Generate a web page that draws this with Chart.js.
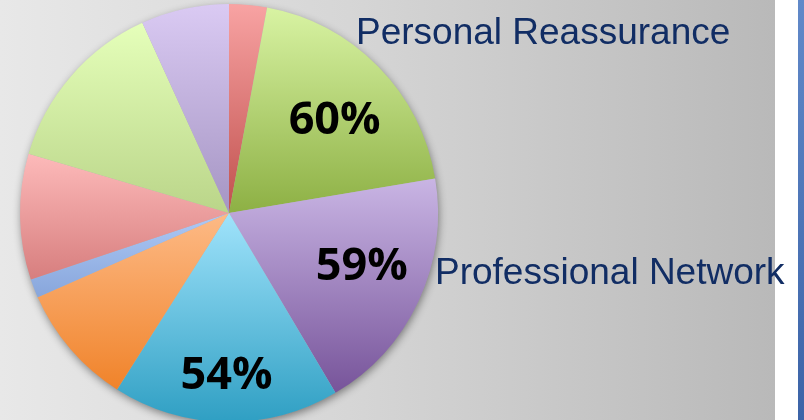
<!DOCTYPE html>
<html>
<head>
<meta charset="utf-8">
<script src="https://cdn.jsdelivr.net/npm/chart.js@4.4.1/dist/chart.umd.min.js"></script>
<style>
  html, body { margin: 0; padding: 0; width: 804px; height: 420px; overflow: hidden; background: #e6e6e6; }
  #pie { position: absolute; left: 0; top: 0; display: block; }
</style>
</head>
<body>
<canvas id="pie" width="804" height="424"></canvas>
<script>
// Slice categories and their shares, clockwise from 12 o'clock
const categories = [
  'Category A', 'Personal Reassurance', 'Professional Network', 'Category D',
  'Category E', 'Category F', 'Category G', 'Category H', 'Category I'
];
const values = [9, 60, 59, 54, 29, 4.5, 30, 42, 21];

// Slices whose percentage is printed on them
const labeledSlices = [1, 2, 3];

// Callout captions beside the pie
const calloutTexts = ['Personal Reassurance', 'Professional Network'];

// Gradient colours for each slice: light at the top, full colour at the bottom
const topColors = ['#f8a3a3', '#d8f3a3', '#c9b5e4', '#a0e3fb', '#fdba86', '#adc9f6', '#fdbaba', '#e5ffba', '#dacaf3'];
const bottomColors = ['#c0504d', '#8db044', '#77549a', '#2f9fc3', '#f0832a', '#88a6db', '#d77e7e', '#bad589', '#a595c3'];

const total = values.reduce((a, b) => a + b, 0);

// Vertical extent of a slice, used to span its gradient
function sliceYRange(cy, r, a0, a1) {
  let minY = Math.min(cy, cy + r * Math.sin(a0), cy + r * Math.sin(a1));
  let maxY = Math.max(cy, cy + r * Math.sin(a0), cy + r * Math.sin(a1));
  for (let k = -2; k <= 2; k++) {
    const down = Math.PI / 2 + k * 2 * Math.PI;
    const up = -Math.PI / 2 + k * 2 * Math.PI;
    if (down > a0 && down < a1) maxY = cy + r;
    if (up > a0 && up < a1) minY = cy - r;
  }
  return [minY, maxY];
}

function sliceFill(ctx) {
  const chart = ctx.chart;
  const area = chart.chartArea;
  const i = ctx.dataIndex;
  if (!area || i === undefined) return bottomColors[i] || '#999';
  const cx = (area.left + area.right) / 2;
  const cy = (area.top + area.bottom) / 2;
  const r = Math.min(area.right - area.left, area.bottom - area.top) / 2;
  let a0 = -Math.PI / 2;
  for (let k = 0; k < i; k++) a0 += 2 * Math.PI * values[k] / total;
  const a1 = a0 + 2 * Math.PI * values[i] / total;
  const [y0, y1] = sliceYRange(cy, r, a0, a1);
  const g = chart.ctx.createLinearGradient(0, y0, 0, y1);
  g.addColorStop(0, topColors[i]);
  g.addColorStop(1, bottomColors[i]);
  return g;
}

// Backdrop: grey wash, white margin strip and blue edge bar
const backdrop = {
  id: 'backdrop',
  beforeDraw(chart) {
    const c = chart.ctx;
    const H = chart.height;
    c.save();
    const bg = c.createLinearGradient(0, 0, 775, 0);
    bg.addColorStop(0, '#e8e8e8');
    bg.addColorStop(0.45, '#d6d6d6');
    bg.addColorStop(1, '#b9b9b9');
    c.fillStyle = bg;
    c.fillRect(0, 0, 775, H);
    c.fillStyle = '#ffffff';
    c.fillRect(775, 0, 23, H);
    const bar = c.createLinearGradient(0, 0, 0, H);
    bar.addColorStop(0, '#6189c9');
    bar.addColorStop(1, '#3b63a7');
    c.fillStyle = bar;
    c.fillRect(798, 0, 6, H);
    c.restore();
  }
};

// Soft drop shadow under the whole pie
const pieShadow = {
  id: 'pieShadow',
  beforeDatasetsDraw(chart) {
    const arc = chart.getDatasetMeta(0).data[0];
    if (!arc) return;
    const c = chart.ctx;
    c.save();
    c.shadowColor = 'rgba(0,0,0,0.45)';
    c.shadowBlur = 9;
    c.shadowOffsetX = 1;
    c.shadowOffsetY = 3;
    c.fillStyle = '#b0b0b0';
    c.beginPath();
    c.arc(arc.x, arc.y, arc.outerRadius - 0.5, 0, Math.PI * 2);
    c.fill();
    c.restore();
  }
};

// Percent labels on slices plus callout captions
const sliceLabels = {
  id: 'sliceLabels',
  afterDatasetsDraw(chart, args, opts) {
    const c = chart.ctx;
    const arcs = chart.getDatasetMeta(0).data;
    c.save();
    c.font = 'bold 45px "Open Sans", Lato, sans-serif';
    c.fillStyle = '#000000';
    c.textAlign = 'center';
    c.textBaseline = 'alphabetic';
    labeledSlices.forEach(i => {
      const a = arcs[i];
      const mid = (a.startAngle + a.endAngle) / 2 + (opts.nudge[i] || 0) * Math.PI / 180;
      const rr = a.outerRadius * (opts.radius[i] || 0.68);
      const x = a.x + rr * Math.cos(mid);
      const y = a.y + rr * Math.sin(mid);
      const text = values[i] + '%';
      const m = c.measureText(text);
      c.fillText(text, x, y + (m.actualBoundingBoxAscent - m.actualBoundingBoxDescent) / 2);
    });
    c.font = '37px "Liberation Sans", Arial, sans-serif';
    c.fillStyle = '#112d64';
    c.textAlign = 'left';
    c.fillText(calloutTexts[0], 356, 44);
    c.fillText(calloutTexts[1], 435, 284);
    c.restore();
  }
};

new Chart(document.getElementById('pie'), {
  type: 'pie',
  data: {
    labels: categories,
    datasets: [{
      data: values,
      backgroundColor: sliceFill,
      borderWidth: 0,
      hoverOffset: 0
    }]
  },
  options: {
    responsive: false,
    animation: false,
    events: [],
    layout: { padding: { left: 20, top: 4, right: 366, bottom: 2 } },
    plugins: {
      legend: { display: false },
      tooltip: { enabled: false },
      sliceLabels: {
        radius: { 1: 0.68, 2: 0.68, 3: 0.765 },
        nudge: { 1: 2.5, 2: -4, 3: 0 }
      }
    }
  },
  plugins: [backdrop, pieShadow, sliceLabels]
});
</script>
</body>
</html>
